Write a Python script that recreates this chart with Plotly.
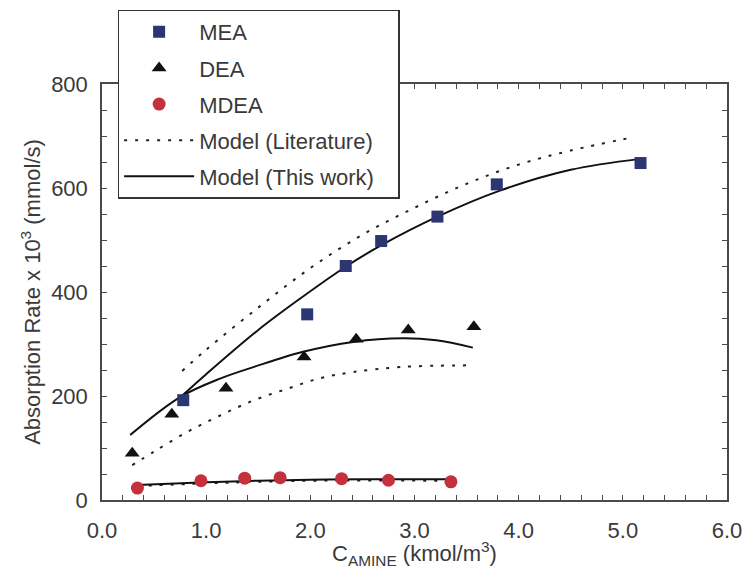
import plotly.graph_objects as go

# Experimental data
mea_x = [0.78, 1.97, 2.34, 2.68, 3.22, 3.79, 5.17]
mea_y = [192, 357, 450, 498, 545, 607, 648]
dea_x = [0.29, 0.67, 1.19, 1.94, 2.44, 2.94, 3.57]
dea_y = [90, 165, 215, 275, 309, 327, 333]
mdea_x = [0.34, 0.95, 1.37, 1.71, 2.30, 2.75, 3.35]
mdea_y = [23, 37, 42, 43, 41, 38, 35]

# Model (This work)
mea_fit_x = [0.76, 1.0, 1.5, 1.9, 2.35, 2.7, 3.21, 3.82, 4.5, 5.17]
mea_fit_y = [199, 242, 327, 387, 450, 492, 544, 595, 635, 656]
dea_fit_x = [0.27, 0.75, 1.14, 1.46, 1.93, 2.41, 2.89, 3.21, 3.56]
dea_fit_y = [125, 198, 234, 256, 285, 304, 311, 307, 293]
mdea_fit_x = [0.34, 1.0, 1.5, 2.0, 2.5, 3.35]
mdea_fit_y = [29, 34, 37, 39, 40, 40]

# Model (Literature)
mea_lit_x = [0.77, 1.0, 1.5, 2.0, 2.5, 3.0, 3.5, 4.0, 4.5, 5.11]
mea_lit_y = [248, 289, 370, 446, 510, 562, 608, 645, 672, 698]
dea_lit_x = [0.29, 0.5, 0.82, 1.14, 1.46, 1.78, 2.09, 2.41, 2.89, 3.56]
dea_lit_y = [67, 93, 131, 163, 192, 214, 234, 246, 256, 259]
mdea_lit_x = [0.34, 1.0, 1.5, 2.0, 2.5, 3.35]
mdea_lit_y = [27, 32, 35, 37, 37.5, 37]

x_ticks = [0, 1, 2, 3, 4, 5, 6]
y_ticks = [0, 200, 400, 600, 800]

FONT = "Liberation Sans, Arial, sans-serif"
TXT = "#3a3a3a"
AX = "#4a4a4a"
PAD = "\u00a0\u00a0\u00a0"

fig = go.Figure()

lit_dash = "3px,8px"
for i, (xs, ys) in enumerate([(mea_lit_x, mea_lit_y), (dea_lit_x, dea_lit_y), (mdea_lit_x, mdea_lit_y)]):
    fig.add_trace(go.Scatter(x=xs, y=ys, mode="lines", line=dict(color="#222", width=2, dash=lit_dash, shape="spline"),
                             name="Model (Literature)", legendgroup="lit", showlegend=(i == 0), legendrank=4))
for i, (xs, ys) in enumerate([(mea_fit_x, mea_fit_y), (dea_fit_x, dea_fit_y), (mdea_fit_x, mdea_fit_y)]):
    fig.add_trace(go.Scatter(x=xs, y=ys, mode="lines", line=dict(color="#111", width=2, shape="spline"),
                             name="Model (This work)" + PAD, legendgroup="fit", showlegend=(i == 0), legendrank=5))

fig.add_trace(go.Scatter(x=mea_x, y=mea_y, mode="markers", name="MEA", legendgroup="mea", legendrank=1,
                         marker=dict(symbol="square", size=12, color="#2c3673", line=dict(width=0))))
fig.add_trace(go.Scatter(x=dea_x, y=dea_y, mode="markers", name="DEA", legendgroup="dea", legendrank=2,
                         marker=dict(symbol="triangle-up", size=13, color="#111", line=dict(width=0))))
fig.add_trace(go.Scatter(x=mdea_x, y=mdea_y, mode="markers", name="MDEA", legendgroup="mdea", legendrank=3,
                         marker=dict(symbol="circle", size=13, color="#c4303c", line=dict(width=0))))

axis_common = dict(
    showline=True, linecolor=AX, linewidth=1.5, mirror="allticks",
    ticks="inside", ticklen=5, tickcolor=AX, tickwidth=1.2,
    showgrid=False, zeroline=False, automargin=False,
    tickfont=dict(family=FONT, size=22, color=TXT),
)

fig.update_xaxes(range=[0, 6], tickvals=x_ticks, ticktext=[f"{v:.1f}" for v in x_ticks],
                 minor=dict(dtick=0.2, ticks="inside", ticklen=5, tickcolor=AX, showgrid=False),
                 title=dict(text="C<sub>AMINE</sub> (kmol/m<sup>3</sup>)", font=dict(family=FONT, size=22, color=TXT), standoff=0),
                 ticklabelstandoff=10, **axis_common)
fig.update_yaxes(range=[0, 800], tickvals=y_ticks,
                 minor=dict(dtick=50, ticks="inside", ticklen=5, tickcolor=AX, showgrid=False),
                 title=dict(text="Absorption Rate x 10<sup>3</sup> (mmol/s)", font=dict(family=FONT, size=22, color=TXT), standoff=4),
                 ticklabelstandoff=8, **axis_common)

fig.update_layout(
    width=745, height=569,
    margin=dict(l=101.5, r=17.5, t=83.5, b=69, pad=0, autoexpand=False),
    paper_bgcolor="white", plot_bgcolor="white",
    font=dict(family=FONT, color=TXT),
    legend=dict(x=0.025, y=1.179, xanchor="left", yanchor="top",
                bgcolor="white", bordercolor="#333", borderwidth=1.5,
                font=dict(family=FONT, size=22, color=TXT),
                tracegroupgap=4.5, itemwidth=70, traceorder="grouped"),
)

fig.write_html("out.html")
